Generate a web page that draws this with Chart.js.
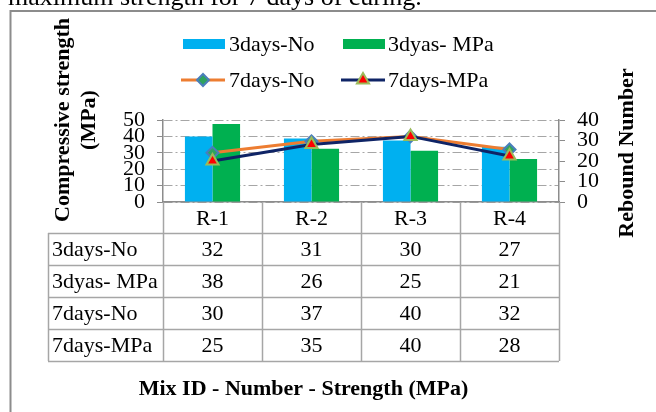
<!DOCTYPE html>
<html>
<head>
<meta charset="utf-8">
<title>Mix ID - Number - Strength (MPa)</title>
<script src="https://cdn.jsdelivr.net/npm/chart.js@4.4.1/dist/chart.umd.min.js"></script>
<style>
  html, body { margin: 0; padding: 0; background: #ffffff; }
  #wrap { position: relative; width: 656px; height: 412px; overflow: hidden; }
  canvas { display: block; }
</style>
</head>
<body>
<div id="wrap"><canvas id="chart" width="656" height="412"></canvas></div>
<script>
// ---- data ----
const categories = ['R-1', 'R-2', 'R-3', 'R-4'];
const seriesNames = ['3days-No', '3dyas- MPa', '7days-No', '7days-MPa'];
const rebound3 = [32, 31, 30, 27];   // 3days-No  (bars, right axis)
const strength3 = [38, 26, 25, 21];  // 3dyas- MPa (bars, right axis)
const rebound7 = [30, 37, 40, 32];   // 7days-No  (line, left axis)
const strength7 = [25, 35, 40, 28];  // 7days-MPa (line, left axis)
const leftAxisRange = [0, 50];
const rightAxisRange = [0, 40];
const tickStep = 10;

const leftTitle = ['Compressive strength', '(MPa)'];
const rightTitle = 'Rebound Number';
const xTitle = 'Mix ID - Number - Strength (MPa)';
const caption = 'maximum strength for 7 days of curing.';

// ---- styling ----
const SERIF = '"Liberation Serif", "Times New Roman", Times, serif';
const GRID = '#a6a6a6';
const AXIS = '#8c8c8c';
const TABLE_LINE = '#a6a6a6';

const tableRows = [
  [seriesNames[0], rebound3],
  [seriesNames[1], strength3],
  [seriesNames[2], rebound7],
  [seriesNames[3], strength7]
];

// frame, caption, legend, axis titles and the data table under the plot
const decorations = {
  id: 'decorations',
  beforeDraw(chart) {
    const ctx = chart.ctx;
    ctx.save();
    ctx.fillStyle = '#ffffff';
    ctx.fillRect(0, 0, chart.width, chart.height);
    // caption line of surrounding text
    ctx.fillStyle = '#000000';
    ctx.font = '26px ' + SERIF;
    ctx.textAlign = 'left';
    ctx.textBaseline = 'alphabetic';
    ctx.fillText(caption, 8, 5);
    // chart frame
    ctx.strokeStyle = AXIS;
    ctx.lineWidth = 2;
    ctx.beginPath();
    ctx.moveTo(10.5, chart.height);
    ctx.lineTo(10.5, 11);
    ctx.lineTo(chart.width, 11);
    ctx.stroke();
    ctx.restore();
  },
  afterDraw(chart) {
    const ctx = chart.ctx;
    const ca = chart.chartArea;
    const xs = chart.scales.x;
    const ds = chart.data.datasets;
    ctx.save();

    // ---- legend ----
    ctx.font = '22px ' + SERIF;
    ctx.textBaseline = 'middle';
    ctx.textAlign = 'left';
    const legendItems = [
      { d: ds[0], x: 183, y: 44 },
      { d: ds[1], x: 343, y: 44 },
      { d: ds[2], x: 181, y: 80 },
      { d: ds[3], x: 341, y: 80 }
    ];
    legendItems.forEach(it => {
      const d = it.d;
      if (d.type === 'bar') {
        ctx.fillStyle = d.backgroundColor;
        ctx.fillRect(it.x, it.y - 5, 42, 10);
      } else {
        ctx.strokeStyle = d.borderColor;
        ctx.lineWidth = d.borderWidth;
        ctx.beginPath();
        ctx.moveTo(it.x, it.y);
        ctx.lineTo(it.x + 44, it.y);
        ctx.stroke();
        ctx.fillStyle = d.pointBackgroundColor;
        ctx.strokeStyle = d.pointBorderColor;
        ctx.lineWidth = d.pointBorderWidth;
        Chart.helpers.drawPoint(ctx, {
          pointStyle: d.pointStyle, radius: d.pointRadius, rotation: 0, borderWidth: d.pointBorderWidth
        }, it.x + 22, it.y);
      }
      ctx.fillStyle = '#000000';
      ctx.fillText(d.label, 388 + (it.x > 300 ? 0 : -159), it.y + 1);
    });

    // ---- axis titles ----
    ctx.font = 'bold 22px ' + SERIF;
    ctx.textAlign = 'center';
    ctx.textBaseline = 'middle';
    ctx.save();
    ctx.translate(63, 120);
    ctx.rotate(-Math.PI / 2);
    ctx.fillText(leftTitle[0], 0, 0);
    ctx.fillText(leftTitle[1], 0, 26);
    ctx.restore();

    ctx.save();
    ctx.translate(627, 153);
    ctx.rotate(-Math.PI / 2);
    ctx.fillText(rightTitle, 0, 0);
    ctx.restore();

    // ---- data table ----
    const n = categories.length;
    const colW = (ca.right - ca.left) / n;
    const headerBottom = xs.bottom;
    const rowH = 32;
    const tableLeft = 48;
    const tableBottom = headerBottom + rowH * tableRows.length;

    ctx.strokeStyle = TABLE_LINE;
    ctx.lineWidth = 1.5;
    ctx.beginPath();
    for (let i = 0; i <= n; i++) {
      const x = Math.round(ca.left + i * colW) + 0.5;
      ctx.moveTo(x, ca.bottom);
      ctx.lineTo(x, tableBottom);
    }
    ctx.moveTo(tableLeft + 0.5, headerBottom);
    ctx.lineTo(tableLeft + 0.5, tableBottom);
    for (let r = 0; r <= tableRows.length; r++) {
      const y = Math.round(headerBottom + r * rowH) + 0.5;
      ctx.moveTo(tableLeft, y);
      ctx.lineTo(ca.right, y);
    }
    ctx.stroke();

    ctx.fillStyle = '#000000';
    ctx.font = '22px ' + SERIF;
    ctx.textBaseline = 'middle';
    tableRows.forEach((row, r) => {
      const cy = headerBottom + r * rowH + rowH / 2 + 1;
      ctx.textAlign = 'left';
      ctx.fillText(row[0], tableLeft + 4, cy);
      ctx.textAlign = 'center';
      row[1].forEach((v, i) => {
        ctx.fillText(String(v), xs.getPixelForValue(i), cy);
      });
    });

    // ---- x title ----
    ctx.font = 'bold 22px ' + SERIF;
    ctx.textAlign = 'center';
    ctx.fillText(xTitle, (tableLeft + ca.right) / 2, 389);

    ctx.restore();
  }
};

const tickFont = { family: SERIF, size: 22 };

new Chart(document.getElementById('chart'), {
  data: {
    labels: categories,
    datasets: [
      {
        type: 'bar', label: seriesNames[0], data: rebound3, yAxisID: 'y1',
        backgroundColor: '#00b0f0', borderWidth: 0, order: 2
      },
      {
        type: 'bar', label: seriesNames[1], data: strength3, yAxisID: 'y1',
        backgroundColor: '#00b050', borderWidth: 0, order: 2
      },
      {
        type: 'line', label: seriesNames[2], data: rebound7, yAxisID: 'y',
        borderColor: '#ed7d31', borderWidth: 3, tension: 0,
        pointStyle: 'rectRot', pointRadius: 6,
        pointBackgroundColor: '#2ea35f', pointBorderColor: '#4a7ebb', pointBorderWidth: 2,
        order: 1
      },
      {
        type: 'line', label: seriesNames[3], data: strength7, yAxisID: 'y',
        borderColor: '#0f2466', borderWidth: 3, tension: 0,
        pointStyle: 'triangle', pointRadius: 7,
        pointBackgroundColor: '#ff0000', pointBorderColor: '#9bbb59', pointBorderWidth: 2,
        order: 0
      }
    ]
  },
  options: {
    responsive: false,
    animation: false,
    devicePixelRatio: 1,
    layout: { padding: { left: 0, right: 0, top: 120, bottom: 179 } },
    categoryPercentage: 0.557,
    barPercentage: 1.0,
    plugins: {
      legend: { display: false },
      tooltip: { enabled: false },
      title: { display: false }
    },
    scales: {
      x: {
        offset: true,
        grid: { display: false, drawTicks: false },
        border: { display: true, color: AXIS, width: 1.5 },
        ticks: { font: tickFont, color: '#000000', padding: 4, maxRotation: 0, autoSkip: false },
        afterFit(s) { s.height = 31; }
      },
      y: {
        position: 'left',
        min: leftAxisRange[0], max: leftAxisRange[1],
        ticks: { stepSize: tickStep, autoSkip: false, font: tickFont, color: '#000000', padding: 12 },
        grid: { color: GRID, lineWidth: 1, tickLength: 6, tickColor: AXIS, tickBorderDash: [] },
        border: { display: true, color: AXIS, width: 1.5, dash: [9, 3, 2, 3] },
        afterFit(s) { s.width = 163; }
      },
      y1: {
        position: 'right',
        min: rightAxisRange[0], max: rightAxisRange[1],
        ticks: { stepSize: tickStep, autoSkip: false, font: tickFont, color: '#000000', padding: 12 },
        grid: { drawOnChartArea: false, tickLength: 6, tickColor: AXIS, tickBorderDash: [] },
        border: { display: true, color: AXIS, width: 1.5 },
        afterFit(s) { s.width = 97; }
      }
    }
  },
  plugins: [decorations]
});
</script>
</body>
</html>
